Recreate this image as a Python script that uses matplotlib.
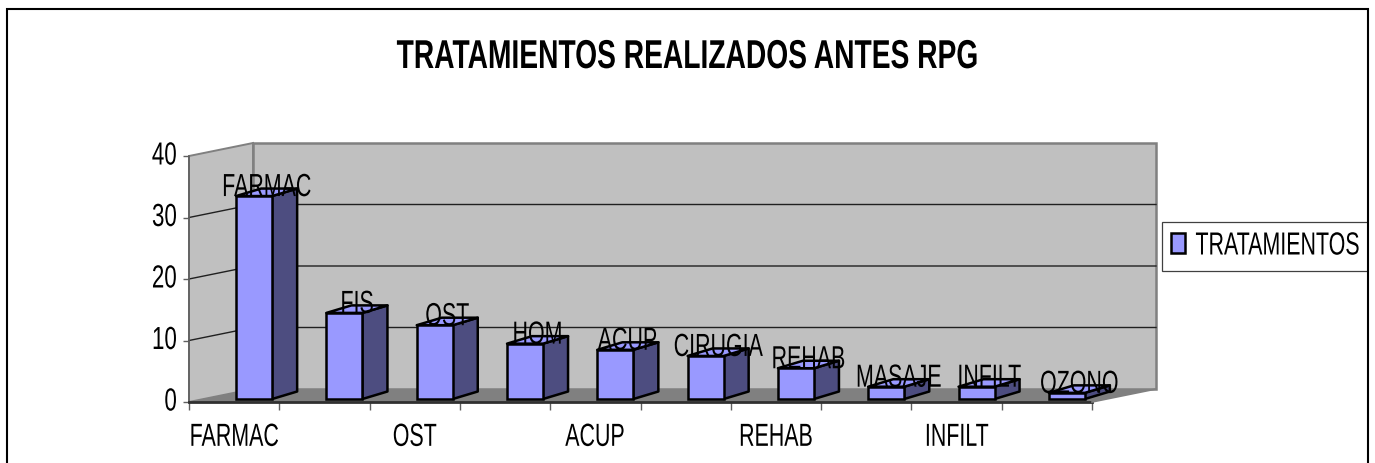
import matplotlib
matplotlib.use("Agg")
import matplotlib.pyplot as plt
from matplotlib.patches import Polygon, Rectangle
from matplotlib.patheffects import AbstractPathEffect
from matplotlib.text import Text
from matplotlib.transforms import Affine2D, Bbox

# ---- data ----
categories = ["FARMAC", "FIS", "OST", "HOM", "ACUP", "CIRUGIA", "REHAB", "MASAJE", "INFILT", "OZONO"]
values = [33, 14, 12, 9, 8, 7, 5, 2, 2, 1]
series_name = "TRATAMIENTOS"
title = "TRATAMIENTOS REALIZADOS ANTES RPG"
y_ticks = [0, 10, 20, 30, 40]

W, H = 1375, 464
plt.rcParams["font.family"] = ["Liberation Sans", "DejaVu Sans"]


class Condense(AbstractPathEffect):
    """Squeeze a text horizontally about its anchor, as in the narrow original."""
    def __init__(self, sx, anchor="center", dy=0.0):
        super().__init__()
        self.sx, self.anchor, self.dy = sx, anchor, dy

    def draw_path(self, renderer, gc, tpath, affine, rgbFace=None):
        ext = tpath.transformed(affine).get_extents()
        cx = {"center": (ext.x0 + ext.x1) / 2, "left": ext.x0, "right": ext.x1}[self.anchor]
        t = affine + Affine2D().translate(-cx, 0).scale(self.sx, 1).translate(cx, self.dy)
        renderer.draw_path(gc, tpath, t, rgbFace)


def condense(text, sx, anchor="center", dy=0.0):
    text.set_path_effects([Condense(sx, anchor, dy)])

    def extent(renderer=None, dpi=None):
        b = Text.get_window_extent(text, renderer, dpi)
        w = b.width * sx
        x0 = {"center": b.x0 + (b.width - w) / 2, "left": b.x0, "right": b.x1 - w}[anchor]
        return Bbox.from_bounds(x0, b.y0 + dy, w, b.height)
    text.get_window_extent = extent


fig = plt.figure(figsize=(W / 100, H / 100), dpi=100, facecolor="white")

# plot box in pixels of the picture
X0, X1, Y0, Y40 = 189, 1092, 403, 157
ax = fig.add_axes([X0 / W, 1 - Y0 / H, (X1 - X0) / W, (Y0 - Y40) / H])
n = len(categories)
ax.set_xlim(0, n)
ax.set_ylim(0, y_ticks[-1])
ax.patch.set_visible(False)
for s in ax.spines.values():
    s.set_visible(False)

ux = (X1 - X0) / n            # px per category
uy = (Y0 - Y40) / y_ticks[-1] # px per value unit
DX, DY = 64 / ux, 13 / uy     # depth of the box
BW = 36 / ux                  # bar width
BOX = 20 / ux, 3 / uy         # front plane of the bars, relative to the box
BDX, BDY = 25 / ux, 7.5 / uy  # depth of the bars
ymax = y_ticks[-1]
SX = 0.67
FS = 23

WALL, FLOOR, FRONT, SIDE = "#C0C0C0", "#808080", "#9999FF", "#4D4D80"
kw = dict(clip_on=False)
# walls and floor
ax.add_patch(Polygon([(DX, DY), (n + DX, DY), (n + DX, ymax + DY), (DX, ymax + DY)],
                     fc=WALL, ec="#808080", lw=1.8, zorder=1, **kw))
ax.add_patch(Polygon([(0, 0), (DX, DY), (DX, ymax + DY), (0, ymax)],
                     fc=WALL, ec="#808080", lw=1.4, zorder=1, **kw))
ax.add_patch(Polygon([(0, 0), (n, 0), (n + DX, DY), (DX, DY)],
                     fc=FLOOR, ec="none", zorder=1.5, **kw))
# gridlines
for t in y_ticks[1:-1]:
    ax.plot([0, DX, n + DX], [t, t + DY, t + DY], color="#202020", lw=1.0, zorder=2, **kw)
# axes lines
ax.plot([0, 0], [0, ymax], color="#606060", lw=1.2, zorder=2, **kw)
ax.plot([0, n], [0, 0], color="#303030", lw=2.0, zorder=2, **kw)
ax.plot([n, n + DX], [0, DY], color="#808080", lw=1.2, zorder=2, **kw)

# bars
lefts = [i + 0.5 - BW / 2 + BOX[0] for i in range(n)]
ax.bar(lefts, values, width=BW, bottom=BOX[1], align="edge", color=FRONT,
       edgecolor="black", linewidth=1.8, zorder=4, label=series_name, clip_on=False)
for xl, v in zip(lefts, values):
    xr = xl + BW
    yb, yt = BOX[1], BOX[1] + v
    ax.add_patch(Polygon([(xr, yb), (xr + BDX, yb + BDY), (xr + BDX, yt + BDY), (xr, yt)],
                         fc=SIDE, ec="black", lw=1.8, joinstyle="round", zorder=3, **kw))
    ax.add_patch(Polygon([(xl, yt), (xr, yt), (xr + BDX, yt + BDY), (xl + BDX, yt + BDY)],
                         fc=FRONT, ec="black", lw=1.8, joinstyle="round", zorder=3.5, **kw))
# data labels
for xl, v, c in zip(lefts, values, categories):
    lab = ax.text(xl + (BW + BDX) / 2, BOX[1] + v, c, ha="center", va="baseline",
                  fontsize=FS, color="black", zorder=6, clip_on=False)
    condense(lab, SX)

# ticks
ax.set_xticks(range(n + 1))
ax.set_xticklabels([])
ax.set_xticks([i + 0.5 for i in range(0, n, 2)], minor=True)
ax.set_xticklabels(categories[::2], minor=True, fontsize=FS)
ax.tick_params(axis="x", which="major", length=5.5, width=1, color="#606060", direction="out")
ax.tick_params(axis="x", which="minor", length=0, pad=15)
ax.set_yticks(y_ticks)
ax.set_yticklabels([str(t) for t in y_ticks], fontsize=FS)
ax.tick_params(axis="y", length=4.5, width=1, color="#606060", pad=4)
for lab in ax.get_xticklabels(minor=True):
    condense(lab, SX)
for lab in ax.get_yticklabels():
    condense(lab, 0.70, "right", dy=3)

# title
ttl = fig.text(688 / W, 1 - 69 / H, title, ha="center", va="baseline", fontsize=29,
               fontweight="bold", color="black")
condense(ttl, 0.70)

# legend
h, l = ax.get_legend_handles_labels()
leg = fig.legend(h, l, loc="center left", bbox_to_anchor=(1162 / W, 1 - 247.5 / H),
                 fontsize=FS, frameon=True, fancybox=False, edgecolor="#404040",
                 framealpha=1, handlelength=0.44, handleheight=0.6, handletextpad=0.31,
                 borderpad=0.29, borderaxespad=0)
leg.get_frame().set_linewidth(0.9)
leg.get_frame().set_clip_box(Bbox.from_extents(0, 0, 1368, H))
for t in leg.get_texts():
    condense(t, SX, "left")

# outer frame, open at the bottom edge of the picture
frame = Rectangle((6.5 / W, -0.1), (1368 - 6.5) / W, 1.1 - 9.5 / H,
                  transform=fig.transFigure, fc="none", ec="black", lw=1.5, zorder=10)
fig.add_artist(frame)

fig.savefig("out.png", dpi=100)
